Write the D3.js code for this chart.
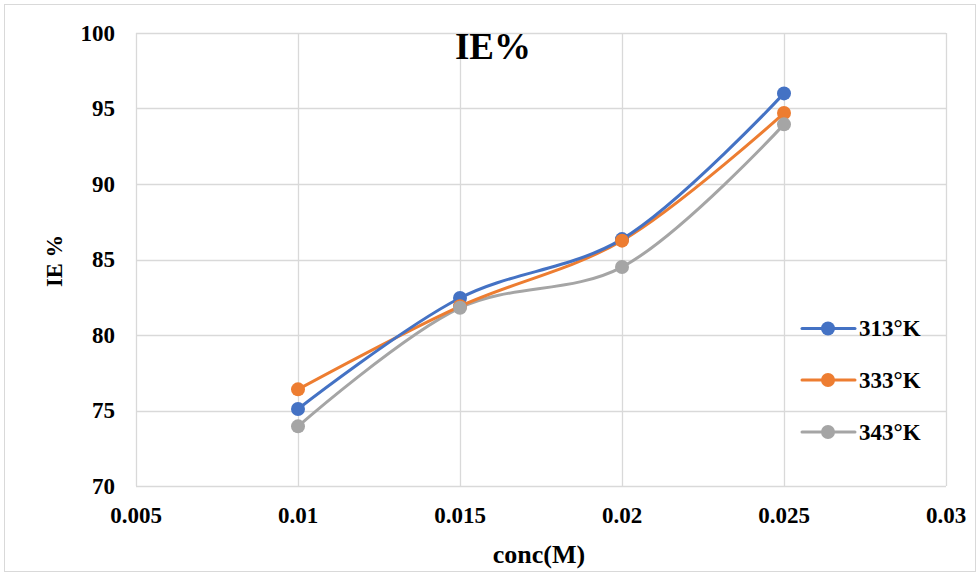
<!DOCTYPE html>
<html><head><meta charset="utf-8">
<script src="https://cdn.jsdelivr.net/npm/d3@7"></script>
<style>body{margin:0;background:#fff}svg{display:block}text{font-family:"Liberation Serif","Times New Roman",serif;font-weight:bold;fill:#000}</style>
</head><body>
<script>
const conc = [0.01, 0.015, 0.02, 0.025];
const ie313 = [75.1, 82.45, 86.35, 96.0];
const ie333 = [76.4, 81.9, 86.25, 94.7];
const ie343 = [73.95, 81.8, 84.5, 93.95];
const seriesNames = ["313°K", "333°K", "343°K"];
const colors = ["#4472C4", "#ED7D31", "#A5A5A5"];
const xTicks = [0.005, 0.01, 0.015, 0.02, 0.025, 0.03];
const yTicks = [70, 75, 80, 85, 90, 95, 100];
const xTickLabels = ["0.005", "0.01", "0.015", "0.02", "0.025", "0.03"];

const W = 980, H = 576;
const svg = d3.select("body").append("svg").attr("width", W).attr("height", H);
svg.append("rect").attr("x", 4.5).attr("y", 4.5).attr("width", 971).attr("height", 567)
  .attr("fill", "#fff").attr("stroke", "#d9d9d9").attr("stroke-width", 1);

const L = 136, R = 946, T = 33, B = 486;
const x = d3.scaleLinear().domain([0.005, 0.03]).range([L, R]);
const y = d3.scaleLinear().domain([70, 100]).range([B, T]);

const g = svg.append("g");
g.selectAll("line.h").data(yTicks).join("line").attr("class", "h")
  .attr("x1", L).attr("x2", R).attr("y1", d => Math.round(y(d)) + 0.5).attr("y2", d => Math.round(y(d)) + 0.5)
  .attr("stroke", "#d9d9d9").attr("stroke-width", 1.3);
g.selectAll("line.v").data(xTicks).join("line").attr("class", "v")
  .attr("y1", T).attr("y2", B).attr("x1", d => Math.round(x(d)) + 0.5).attr("x2", d => Math.round(x(d)) + 0.5)
  .attr("stroke", "#d9d9d9").attr("stroke-width", 1.3);

g.selectAll("text.yt").data(yTicks).join("text").attr("class", "yt")
  .attr("x", 115).attr("y", d => y(d) + 7.5).attr("text-anchor", "end").attr("font-size", 23)
  .text(d => d);
g.selectAll("text.xt").data(xTicks).join("text").attr("class", "xt")
  .attr("x", d => x(d)).attr("y", 523).attr("text-anchor", "middle").attr("font-size", 23)
  .text((d, i) => xTickLabels[i]);

svg.append("text").attr("x", 493).attr("y", 59).attr("text-anchor", "middle").attr("font-size", 37).text("IE%");
svg.append("text").attr("x", 539).attr("y", 563).attr("text-anchor", "middle").attr("font-size", 26).text("conc(M)");
svg.append("text").attr("transform", "translate(62,261) rotate(-90)").attr("text-anchor", "middle").attr("font-size", 22.5).text("IE %");

const all = [ie313, ie333, ie343];
const line = d3.line().x(d => x(d[0])).y(d => y(d[1])).curve(d3.curveCatmullRom.alpha(0.5));
const order = [2, 1, 0];
order.forEach(i => {
  const pts = conc.map((c, j) => [c, all[i][j]]);
  svg.append("path").datum(pts).attr("d", line).attr("fill", "none")
    .attr("stroke", colors[i]).attr("stroke-width", 3).attr("stroke-linecap", "round");
});
[0, 1, 2].forEach(i => {
  const pts = conc.map((c, j) => [c, all[i][j]]);
  svg.selectAll(null).data(pts).join("circle").attr("cx", d => x(d[0])).attr("cy", d => y(d[1]))
    .attr("r", 7).attr("fill", colors[i]);
});

const legY = [328.5, 380, 432];
seriesNames.forEach((n, i) => {
  const lg = svg.append("g");
  lg.append("line").attr("x1", 802).attr("x2", 855).attr("y1", legY[i]).attr("y2", legY[i])
    .attr("stroke", colors[i]).attr("stroke-width", 3).attr("stroke-linecap", "round");
  lg.append("circle").attr("cx", 828).attr("cy", legY[i]).attr("r", 7).attr("fill", colors[i]);
  lg.append("text").attr("x", 859).attr("y", legY[i] + 7.5).attr("font-size", 23).text(n);
});
</script>
</body></html>
